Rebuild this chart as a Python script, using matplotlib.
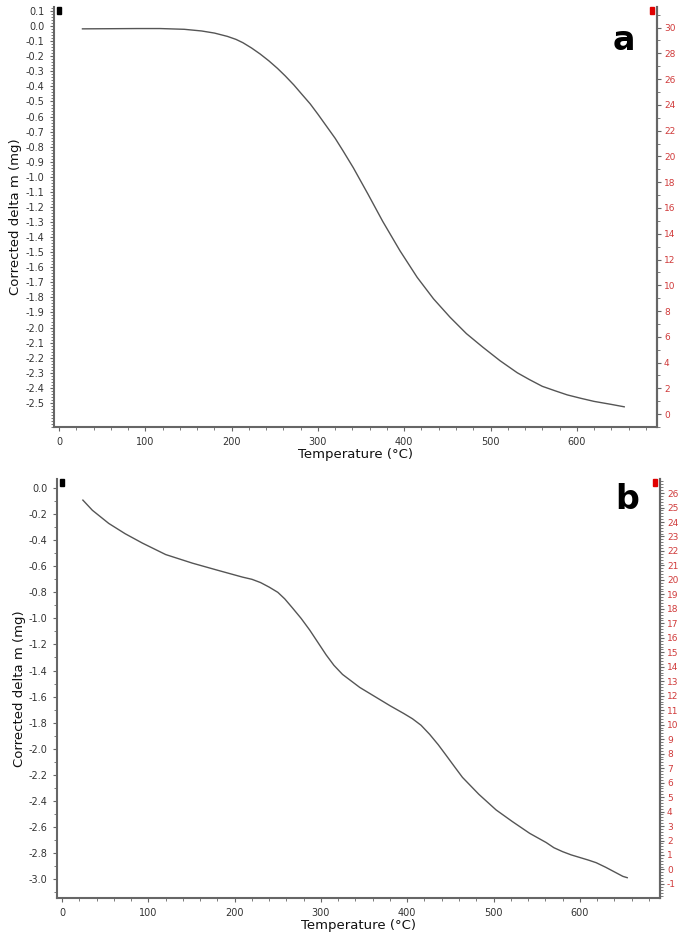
import matplotlib.pyplot as plt
import numpy as np
from matplotlib.patches import Rectangle
from matplotlib.ticker import MultipleLocator, FixedLocator

# panel a: TGA curve (temperature in C, corrected delta m in mg)
temp_a = [27, 60, 90, 117, 145, 165, 180, 195, 205, 213, 223, 233, 243, 253,
          262, 272, 281, 291, 300, 310, 320, 329, 341, 358, 375, 395, 415,
          434, 453, 472, 491, 511, 531, 545, 560, 575, 589, 605, 620, 640, 655]
mass_a = [-0.018, -0.017, -0.016, -0.016, -0.021, -0.032, -0.046, -0.068,
          -0.088, -0.11, -0.145, -0.185, -0.23, -0.28, -0.33, -0.39, -0.45,
          -0.516, -0.585, -0.665, -0.745, -0.827, -0.94, -1.115, -1.295,
          -1.49, -1.667, -1.81, -1.931, -2.04, -2.13, -2.22, -2.30, -2.345,
          -2.39, -2.42, -2.447, -2.47, -2.49, -2.51, -2.526]

# panel b
temp_b = [24, 35, 54, 73, 93, 120, 151, 180, 209, 220, 230, 240, 250, 258,
          267, 277, 287, 297, 306, 315, 325, 335, 345, 360, 380, 396, 406,
          416, 426, 436, 445, 455, 464, 483, 503, 522, 542, 561, 570, 580,
          590, 600, 610, 619, 630, 640, 650, 655]
mass_b = [-0.092, -0.17, -0.271, -0.35, -0.422, -0.51, -0.576, -0.63,
          -0.683, -0.70, -0.725, -0.76, -0.80, -0.85, -0.92, -1.0, -1.09,
          -1.19, -1.28, -1.36, -1.43, -1.48, -1.53, -1.59, -1.67, -1.73,
          -1.77, -1.82, -1.89, -1.97, -2.05, -2.14, -2.22, -2.35, -2.47,
          -2.56, -2.65, -2.72, -2.76, -2.79, -2.815, -2.835, -2.855, -2.875,
          -2.91, -2.945, -2.98, -2.99]

grey = '#666666'
red = '#d03a3a'

fig = plt.figure(figsize=(6.78, 9.36), dpi=100)
ax_a = fig.add_axes([54 / 678, 1 - 427 / 936, 603 / 678, 420 / 936])
ax_b = fig.add_axes([57 / 678, 1 - 898 / 936, 603 / 678, 419 / 936])


def style(ax, ylim, yticks, minor, rlim, rticks, rminor, label, label_y):
    ax.set_xlim(-6, 693)
    ax.set_ylim(*ylim)
    ax.xaxis.set_major_locator(MultipleLocator(100))
    ax.xaxis.set_minor_locator(MultipleLocator(20))
    ax.yaxis.set_major_locator(FixedLocator(yticks))
    ax.yaxis.set_minor_locator(MultipleLocator(minor))
    ax.yaxis.set_major_formatter(lambda v, p: f'{v:.1f}')
    ax.spines['top'].set_visible(False)
    for s in ['left', 'bottom', 'right']:
        ax.spines[s].set_color(grey)
        ax.spines[s].set_linewidth(1.5)
    ax.tick_params(which='major', length=3, color=grey, labelsize=7,
                   labelcolor='#333333', pad=4)
    ax.tick_params(which='minor', length=2, color=grey)
    ax.set_xlabel('Temperature (°C)', fontsize=9.5, color='#111111', labelpad=1)
    ax.set_ylabel('Corrected delta m (mg)', fontsize=9.5, color='#111111', labelpad=2)

    r = ax.twinx()
    r.set_ylim(*rlim)
    r.yaxis.set_major_locator(FixedLocator(rticks))
    r.yaxis.set_minor_locator(MultipleLocator(rminor))
    r.yaxis.set_major_formatter(lambda v, p: f'{v:.0f}')
    for s in ['top', 'left', 'bottom']:
        r.spines[s].set_visible(False)
    r.spines['right'].set_color(grey)
    r.spines['right'].set_linewidth(1.5)
    r.tick_params(which='major', length=3, color=grey, labelsize=6.5,
                  labelcolor=red, pad=2)
    r.tick_params(which='minor', length=2, color=grey)

    ax.add_patch(Rectangle((0.005, 0.983), 0.006, 0.017, transform=ax.transAxes,
                           color='black', clip_on=False))
    ax.add_patch(Rectangle((0.989, 0.983), 0.006, 0.017, transform=ax.transAxes,
                           color='#e00000', clip_on=False))
    ax.text(0.945, label_y, label, transform=ax.transAxes, fontsize=24,
            fontweight='bold', ha='center', va='center')


style(ax_a, (-2.66, 0.127), np.round(np.arange(-2.5, 0.15, 0.1), 1), 0.02,
      (-1.0, 31.6), np.arange(0, 31, 2), 1, 'a', 0.92)
style(ax_b, (-3.146, 0.07), np.round(np.arange(-3.0, 0.05, 0.2), 1), 0.1,
      (-1.97, 26.97), np.arange(-1, 27, 1), 0.2, 'b', 0.95)

ax_a.plot(temp_a, mass_a, color='#555555', lw=1)
ax_b.plot(temp_b, mass_b, color='#555555', lw=1)

plt.savefig('out.png', dpi=100)
plt.close()
